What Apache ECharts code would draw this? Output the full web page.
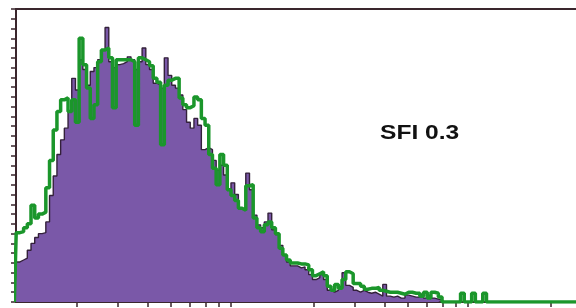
<!DOCTYPE html>
<html>
<head>
<meta charset="utf-8">
<script src="https://cdn.jsdelivr.net/npm/echarts@6.0.0/dist/echarts.min.js"></script>
<style>
  html, body { margin: 0; padding: 0; background: #fff; }
  #chart { width: 576px; height: 308px; }
</style>
</head>
<body>
<div id="chart"></div>
<script>
// histogram channels, 64 per decade, first entry is channel 2
const firstChannel = 2;
const channelsPerDecade = 64;
const purpleCounts = [
  0,
  41, 43, 45, 53, 60, 66, 70, 71, 82, 109,
  129, 151, 166, 178, 195, 229, 217, 248, 238, 222,
  236, 240, 248, 258, 281, 246, 240, 243, 244, 246,
  251, 248, 238, 246, 260, 243, 238, 224, 222, 219,
  250, 232, 222, 219, 212, 197, 184, 178, 188, 181,
  156, 158, 156, 145, 135, 140, 130, 115, 122, 110,
  96, 94, 132, 115, 89, 79, 76, 82, 91, 74,
  69, 58, 48, 41, 37, 37, 35, 36, 33, 28,
  23, 25, 28, 23, 12, 10, 12, 16, 30, 17,
  15, 12, 10, 12, 10, 9, 10, 8, 6, 18,
  6, 5, 6, 4, 4, 7, 6, 5, 5, 8,
  4, 7, 4, 3, 2, 0
];
const greenCounts = [
  0,
  71, 72, 76, 80, 99, 86, 90, 92, 117, 145,
  176, 195, 207, 209, 195, 207, 184, 270, 243, 219,
  188, 202, 246, 258, 260, 250, 199, 248, 248, 248,
  248, 246, 181, 250, 248, 246, 242, 229, 225, 161,
  222, 227, 229, 229, 209, 202, 199, 201, 210, 207,
  188, 181, 151, 137, 120, 151, 140, 115, 109, 104,
  96, 94, 119, 120, 86, 76, 72, 79, 82, 76,
  70, 55, 48, 43, 40, 40, 39, 39, 38, 33,
  27, 29, 31, 27, 16, 12, 18, 14, 23, 31,
  29, 19, 19, 16, 13, 14, 14, 15, 12, 11,
  10, 10, 10, 9, 8, 10, 10, 9, 9, 6,
  10, 4, 10, 9, 5, 0, 0, 0, 0, 0,
  9, 0, 0, 9, 0, 0, 9, 0, 0, 0,
  0, 0, 0, 0, 0, 0, 0, 0, 0, 0,
  0, 0, 0, 0, 0, 0, 0, 0, 0, 0,
  0, 0
];
// minor log ticks along the intensity axis
const tickValues = [2, 3, 4, 5, 6, 7, 8, 9, 20, 30, 40, 50, 60, 70, 80, 90, 200];
const label = "SFI 0.3";

// x in decades (log10 of intensity), bin centres
const toPoints = arr => arr.map((v, i) => [(firstChannel + i + 0.5) / channelsPerDecade, v]);

const axisColor = "#3a262d";
const chart = echarts.init(document.getElementById("chart"), null, { renderer: "canvas" });

const option = {
  animation: false,
  backgroundColor: "#fff",
  grid: { left: 16, right: 0, top: 9, bottom: 6 },
  xAxis: [
    {
      type: "value",
      min: 0.046,
      max: 2.409,
      axisLine: { show: true, lineStyle: { color: axisColor, width: 2 } },
      axisTick: {
        show: true,
        length: 5,
        lineStyle: { color: axisColor, width: 1.5 },
        customValues: tickValues.map(v => Math.log10(v))
      },
      axisLabel: { show: false },
      splitLine: { show: false }
    },
    {
      type: "value",
      position: "top",
      min: 0.046,
      max: 2.409,
      axisLine: { show: true, lineStyle: { color: axisColor, width: 2 } },
      axisTick: { show: false },
      axisLabel: { show: false },
      splitLine: { show: false }
    }
  ],
  yAxis: {
    type: "value",
    min: 0,
    max: 300,
    interval: 10,
    axisLine: { show: true, lineStyle: { color: axisColor, width: 2 } },
    axisTick: { show: true, length: 5, lineStyle: { color: axisColor, width: 1.5 } },
    axisLabel: { show: false },
    splitLine: { show: false }
  },
  series: [
    {
      name: "control",
      type: "line",
      step: "middle",
      symbol: "none",
      data: toPoints(purpleCounts),
      lineStyle: { color: "#33203a", width: 1.4 },
      areaStyle: { color: "#7a58a8", opacity: 1 },
      z: 2
    },
    {
      name: "sample",
      type: "line",
      step: "middle",
      symbol: "none",
      data: toPoints(greenCounts),
      lineStyle: { color: "#1b962b", width: 3.5 },
      z: 3
    }
  ],
  graphic: [
    {
      type: "text",
      x: 380,
      y: 123,
      scaleX: 1.17,
      style: {
        text: label,
        font: "bold 21px 'Liberation Sans', Arial, sans-serif",
        fill: "#111"
      }
    }
  ]
};
chart.setOption(option);
</script>
</body>
</html>
